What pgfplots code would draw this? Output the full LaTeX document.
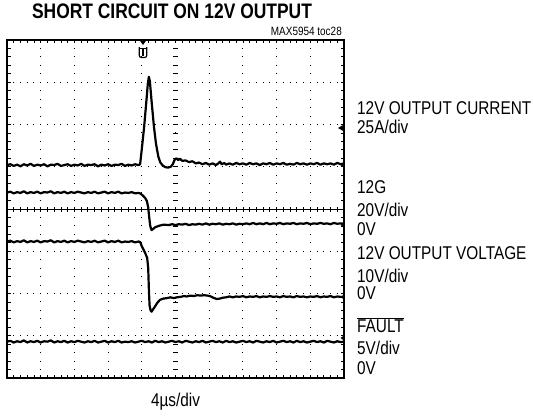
\documentclass[border=0pt]{standalone}
\usepackage{fontspec}
\setmainfont{Liberation Sans}[FakeStretch=0.83]
\usepackage{pgfplots}
\pgfplotsset{compat=1.18}
\begin{document}
\begin{tikzpicture}[x=1bp,y=1bp]
\useasboundingbox (0,0) rectangle (533,415);
% oscilloscope graticule
\begin{scope}[shift={(7bp,37bp)},x=33.7bp,y=42.25bp]
 \foreach \j in {1,2,3,5,6,7} \draw[line width=1bp, dash pattern=on 1bp off 5.74bp] ([xshift=-0.5bp]0,\j) -- (10,\j);
 \foreach \i in {1,2,3,4,5,6,7,8,9} \draw[line width=1bp, dash pattern=on 1bp off 7.45bp] ([yshift=-0.5bp]\i,0) -- (\i,8);
 \draw[line width=1bp] (0,4)--(10,4);
 \foreach \k in {1,...,49} \draw[line width=0.8bp] (\k/5,4) ++(0,-2.5bp) -- ++(0,5bp);
 \foreach \k in {1,...,39} \draw[line width=0.8bp] (5,\k/5) ++(-2.2bp,0) -- ++(4.4bp,0);
 \foreach \k in {1,...,49} {\draw[line width=0.8bp] (\k/5,0)--++(0,3.5bp); \draw[line width=0.8bp] (\k/5,8)--++(0,-3.5bp);}
 \foreach \k in {1,...,39} {\draw[line width=0.8bp] (0,\k/5)--++(3.5bp,0); \draw[line width=0.8bp] (10,\k/5)--++(-3.5bp,0);}
\end{scope}
\begin{axis}[at={(7bp,37bp)}, anchor=south west, width=337bp, height=338bp, scale only axis,
  xmin=0, xmax=10, ymin=0, ymax=8, xtick=\empty, ytick=\empty,
  axis line style={line width=2.2bp}]
% 12V output current
\addplot[black, line width=2.2bp, line join=round] coordinates {
(0,5.04)(0.1,5.06)(0.2,5.02)(0.3,5.05)(0.4,5.01)(0.5,5.06)(0.6,5.03)(0.7,5.07)(0.8,5.02)(0.9,5.05)(1.0,5.03)(1.1,5.06)(1.2,5.01)(1.3,5.05)(1.4,5.04)(1.5,5.07)(1.6,5.02)(1.7,5.04)(1.8,5.06)(1.9,5.02)(2.0,5.05)(2.1,5.03)(2.2,5.07)(2.3,5.02)(2.4,5.05)(2.5,5.04)(2.6,5.06)(2.7,5.01)(2.8,5.05)(2.9,5.03)(3.0,5.06)(3.1,5.02)(3.2,5.05)(3.3,5.04)(3.4,5.07)(3.5,5.02)(3.6,5.05)(3.7,5.03)(3.8,5.06)(3.9,5.04)(3.95,5.06)(4.0,5.42)(4.07,5.95)(4.13,6.5)(4.18,6.98)(4.21,7.13)(4.24,7.02)(4.29,6.55)(4.36,5.95)(4.42,5.55)(4.49,5.24)(4.55,5.1)(4.62,5.03)(4.7,4.99)(4.78,4.98)(4.86,5.0)(4.92,5.06)(4.97,5.16)(5.03,5.2)(5.08,5.16)(5.13,5.19)(5.2,5.14)(5.3,5.15)(5.4,5.11)(5.5,5.13)(5.6,5.08)(5.7,5.1)(5.8,5.06)(5.9,5.09)(6.0,5.05)(6.1,5.08)(6.2,5.04)(6.27,5.08)(6.32,5.12)(6.37,5.06)(6.45,5.09)(6.5,5.05)(6.6,5.08)(6.7,5.05)(6.8,5.09)(6.9,5.06)(7.0,5.08)(7.1,5.05)(7.2,5.09)(7.3,5.06)(7.4,5.08)(7.5,5.04)(7.6,5.08)(7.7,5.06)(7.8,5.09)(7.9,5.05)(8.0,5.08)(8.1,5.06)(8.2,5.09)(8.3,5.05)(8.4,5.07)(8.5,5.05)(8.6,5.09)(8.7,5.06)(8.8,5.08)(8.9,5.05)(9.0,5.08)(9.1,5.06)(9.2,5.09)(9.3,5.05)(9.4,5.08)(9.5,5.06)(9.6,5.08)(9.7,5.05)(9.8,5.09)(9.9,5.06)(10,5.08)};
% 12G
\addplot[black, line width=2.2bp, line join=round] coordinates {
(0,4.39)(0.1,4.41)(0.2,4.37)(0.3,4.40)(0.4,4.38)(0.5,4.42)(0.6,4.37)(0.7,4.40)(0.8,4.38)(0.9,4.41)(1.0,4.37)(1.1,4.40)(1.2,4.39)(1.3,4.42)(1.4,4.37)(1.5,4.40)(1.6,4.38)(1.7,4.41)(1.8,4.37)(1.9,4.40)(2.0,4.38)(2.1,4.41)(2.2,4.39)(2.3,4.37)(2.4,4.40)(2.5,4.38)(2.6,4.41)(2.7,4.37)(2.8,4.39)(2.9,4.41)(3.0,4.37)(3.1,4.40)(3.2,4.38)(3.3,4.41)(3.4,4.37)(3.5,4.39)(3.6,4.38)(3.7,4.40)(3.8,4.37)(3.9,4.38)(3.95,4.37)(4.0,4.34)(4.04,4.31)(4.1,4.26)(4.15,4.19)(4.19,4.04)(4.22,3.8)(4.25,3.6)(4.29,3.50)(4.34,3.53)(4.4,3.57)(4.5,3.6)(4.64,3.63)(4.8,3.62)(4.9,3.64)(5.0,3.62)(5.1,3.64)(5.2,3.63)(5.3,3.65)(5.4,3.62)(5.5,3.64)(5.6,3.63)(5.7,3.65)(5.8,3.63)(5.9,3.66)(6.0,3.63)(6.1,3.65)(6.2,3.64)(6.3,3.66)(6.4,3.63)(6.5,3.65)(6.6,3.64)(6.7,3.66)(6.8,3.63)(6.9,3.65)(7.0,3.64)(7.1,3.66)(7.2,3.64)(7.3,3.67)(7.4,3.64)(7.5,3.66)(7.6,3.64)(7.7,3.67)(7.8,3.64)(7.9,3.66)(8.0,3.65)(8.1,3.67)(8.2,3.64)(8.3,3.66)(8.4,3.65)(8.5,3.67)(8.6,3.64)(8.7,3.66)(8.8,3.65)(8.9,3.67)(9.0,3.64)(9.1,3.66)(9.2,3.65)(9.3,3.67)(9.4,3.65)(9.5,3.66)(9.6,3.64)(9.7,3.67)(9.8,3.65)(9.9,3.66)(10,3.65)};
% 12V output voltage
\addplot[black, line width=2.2bp, line join=round] coordinates {
(0,3.23)(0.1,3.25)(0.2,3.21)(0.3,3.24)(0.4,3.22)(0.5,3.26)(0.6,3.21)(0.7,3.24)(0.8,3.22)(0.9,3.25)(1.0,3.21)(1.1,3.24)(1.2,3.23)(1.3,3.26)(1.4,3.21)(1.5,3.24)(1.6,3.22)(1.7,3.25)(1.8,3.21)(1.9,3.24)(2.0,3.22)(2.1,3.25)(2.2,3.23)(2.3,3.21)(2.4,3.24)(2.5,3.22)(2.6,3.25)(2.7,3.21)(2.8,3.23)(2.9,3.25)(3.0,3.21)(3.1,3.24)(3.2,3.22)(3.3,3.25)(3.4,3.21)(3.5,3.23)(3.6,3.22)(3.7,3.24)(3.8,3.21)(3.9,3.23)(3.95,3.22)(4.0,3.12)(4.05,3.04)(4.1,2.96)(4.16,2.84)(4.19,2.6)(4.21,2.1)(4.23,1.72)(4.26,1.6)(4.29,1.57)(4.33,1.62)(4.39,1.69)(4.46,1.78)(4.54,1.85)(4.64,1.88)(4.74,1.89)(4.85,1.91)(4.95,1.89)(5.04,1.91)(5.15,1.92)(5.25,1.94)(5.33,1.93)(5.45,1.95)(5.55,1.94)(5.65,1.96)(5.75,1.95)(5.85,1.96)(5.95,1.95)(6.05,1.93)(6.15,1.89)(6.23,1.87)(6.32,1.88)(6.4,1.9)(6.5,1.91)(6.6,1.93)(6.7,1.91)(6.8,1.93)(6.9,1.92)(7.0,1.94)(7.1,1.91)(7.2,1.93)(7.3,1.92)(7.4,1.94)(7.5,1.91)(7.6,1.93)(7.7,1.92)(7.8,1.94)(7.9,1.92)(8.0,1.93)(8.1,1.91)(8.2,1.94)(8.3,1.92)(8.4,1.93)(8.5,1.91)(8.6,1.94)(8.7,1.92)(8.8,1.93)(8.9,1.91)(9.0,1.93)(9.1,1.92)(9.2,1.94)(9.3,1.91)(9.4,1.93)(9.5,1.92)(9.6,1.94)(9.7,1.91)(9.8,1.93)(9.9,1.92)(10,1.92)};
% FAULT
\addplot[black, line width=2.2bp, line join=round] coordinates {
(0,0.86)(0.1,0.88)(0.2,0.84)(0.3,0.87)(0.4,0.85)(0.5,0.89)(0.6,0.84)(0.7,0.87)(0.8,0.85)(0.9,0.88)(1.0,0.84)(1.1,0.87)(1.2,0.86)(1.3,0.89)(1.4,0.84)(1.5,0.87)(1.6,0.85)(1.7,0.88)(1.8,0.84)(1.9,0.87)(2.0,0.85)(2.1,0.88)(2.2,0.86)(2.3,0.84)(2.4,0.87)(2.5,0.85)(2.6,0.88)(2.7,0.84)(2.8,0.86)(2.9,0.88)(3.0,0.84)(3.1,0.87)(3.2,0.85)(3.3,0.88)(3.4,0.84)(3.5,0.86)(3.6,0.85)(3.7,0.87)(3.8,0.84)(3.9,0.86)(4.0,0.88)(4.1,0.85)(4.2,0.87)(4.3,0.84)(4.4,0.88)(4.5,0.85)(4.6,0.87)(4.7,0.84)(4.8,0.86)(4.9,0.88)(5.0,0.85)(5.1,0.87)(5.2,0.84)(5.3,0.88)(5.4,0.86)(5.5,0.84)(5.6,0.87)(5.7,0.85)(5.8,0.88)(5.9,0.84)(6.0,0.86)(6.1,0.88)(6.2,0.85)(6.3,0.87)(6.4,0.84)(6.5,0.88)(6.6,0.85)(6.7,0.87)(6.8,0.84)(6.9,0.86)(7.0,0.88)(7.1,0.85)(7.2,0.87)(7.3,0.84)(7.4,0.88)(7.5,0.86)(7.6,0.84)(7.7,0.87)(7.8,0.85)(7.9,0.88)(8.0,0.84)(8.1,0.86)(8.2,0.88)(8.3,0.85)(8.4,0.87)(8.5,0.84)(8.6,0.88)(8.7,0.85)(8.8,0.87)(8.9,0.84)(9.0,0.86)(9.1,0.88)(9.2,0.85)(9.3,0.87)(9.4,0.84)(9.5,0.88)(9.6,0.86)(9.7,0.84)(9.8,0.87)(9.9,0.85)(10,0.86)};
\end{axis}
% trigger and ground markers
\fill (139.5,375) -- (146.5,375) -- (143,370) -- cycle;
\draw[line width=1.2bp, rounded corners=2bp] (139.3,368) -- (139.3,357.5) -- (146.7,357.5) -- (146.7,368);
\draw[line width=1.5bp] (140.3,366.5) -- (145.7,366.5) (143,366.5) -- (143,359.5);
\fill (338,287) -- (344,283.5) -- (344,290.5) -- cycle;
\foreach \yy in {250,190,118,77} \fill (340.5,\yy) -- (344,\yy-2.5) -- (344,\yy+2.5) -- cycle;
% texts
\node[anchor=base, font=\bfseries\fontsize{21bp}{23bp}\selectfont, inner sep=0] at (172,396) {SHORT CIRCUIT ON 12V OUTPUT};
\node[anchor=base east, font=\fontsize{12bp}{13bp}\selectfont, inner sep=0] at (342,380) {MAX5954 toc28};
\begin{scope}[every node/.style={anchor=base west, inner sep=0, font=\fontsize{18.5bp}{20bp}\selectfont}]
\node at (357,301) {12V OUTPUT CURRENT};
\node at (357,282) {25A/div};
\node at (357,222) {12G};
\node at (357,199) {20V/div};
\node at (357,180) {0V};
\node at (357,156) {12V OUTPUT VOLTAGE};
\node at (357,133) {10V/div};
\node at (357,116) {0V};
\node at (357,83) {$\overline{\mbox{FAULT}}$};
\node at (357,61) {5V/div};
\node at (357,41) {0V};
\end{scope}
\node[anchor=base, inner sep=0, font=\fontsize{18.5bp}{20bp}\selectfont] at (175.5,9) {4µs/div};
\end{tikzpicture}
\end{document}
